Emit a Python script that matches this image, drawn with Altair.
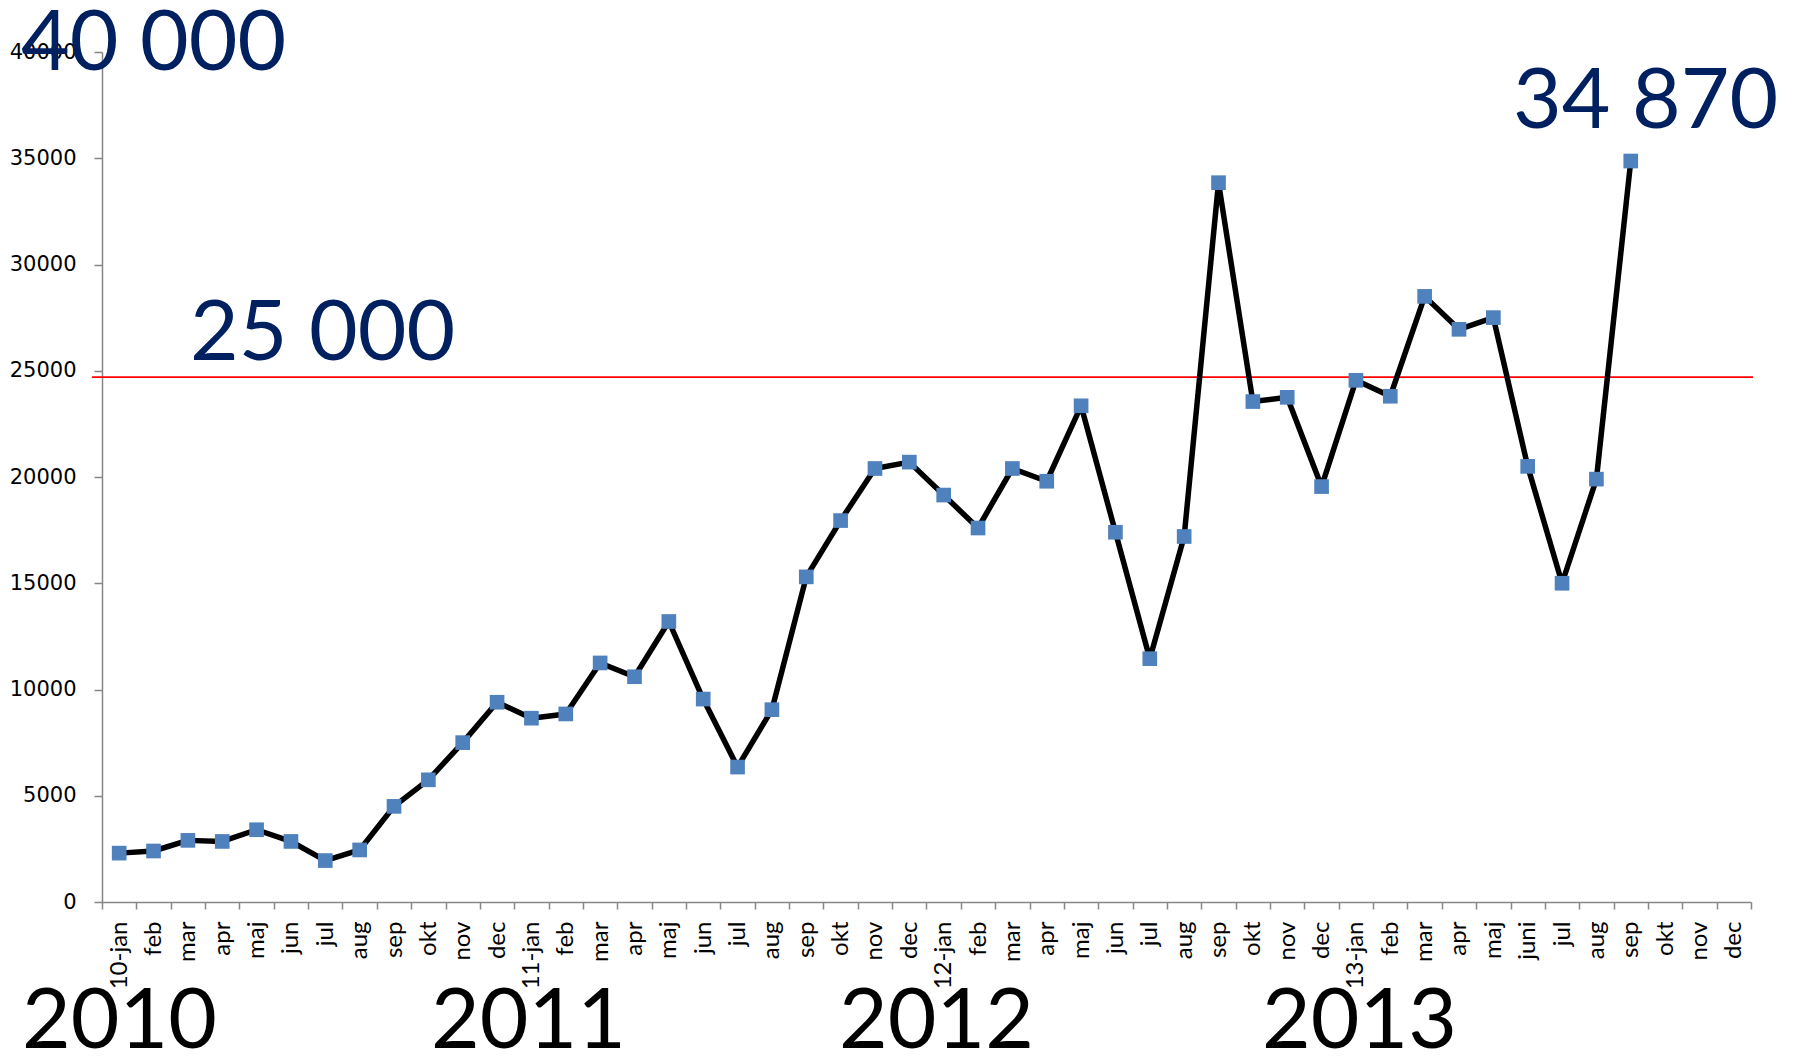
import json
import altair as alt
import pandas as pd

# ---- data ----
month_labels = (
    ["10-jan", "feb", "mar", "apr", "maj", "jun", "jul", "aug", "sep", "okt", "nov", "dec"]
    + ["11-jan", "feb", "mar", "apr", "maj", "jun", "jul", "aug", "sep", "okt", "nov", "dec"]
    + ["12-jan", "feb", "mar", "apr", "maj", "jun", "jul", "aug", "sep", "okt", "nov", "dec"]
    + ["13-jan", "feb", "mar", "apr", "maj", "juni", "jul", "aug", "sep", "okt", "nov", "dec"]
)
values_2010 = [2300, 2400, 2900, 2850, 3400, 2850, 1950, 2450, 4500, 5750, 7500, 9400]
values_2011 = [8650, 8850, 11250, 10600, 13200, 9550, 6350, 9050, 15300, 17950, 20400, 20700]
values_2012 = [19150, 17600, 20400, 19800, 23350, 17400, 11450, 17200, 33850, 23550, 23750, 19550]
values_2013 = [24550, 23800, 28500, 26950, 27500, 20500, 15000, 19900, 34870, None, None, None]
year_labels = ["2010", "2011", "2012", "2013"]
target_value = 24700
y_ticks = [0, 5000, 10000, 15000, 20000, 25000, 30000, 35000, 40000]

values = values_2010 + values_2011 + values_2012 + values_2013
df = pd.DataFrame({"idx": list(range(len(month_labels))), "value": values})
df_valid = df.dropna()

W, H = 1649, 850
NAVY = "#002060"
GREY = "#868686"
BIG = "Lato"

label_expr = json.dumps(month_labels) + "[datum.value]"

x_enc = alt.X(
    "idx:O",
    scale=alt.Scale(type="band", domain=list(range(len(month_labels))), paddingInner=0, paddingOuter=0),
    axis=alt.Axis(
        title=None,
        labelExpr=label_expr,
        labelAngle=-90,
        labelFont="Lato",
        labelFontSize=24,
        labelColor="black",
        labelPadding=12,
        tickSize=7,
        tickColor=GREY,
        tickWidth=1.5,
        tickBand="extent",
        domainColor=GREY,
        domainWidth=1.5,
        grid=False,
        labelOverlap=False,
    ),
)
y_enc = alt.Y(
    "value:Q",
    scale=alt.Scale(domain=[0, 40000], nice=False),
    axis=alt.Axis(
        title=None,
        values=y_ticks,
        format="d",
        labelFont="DejaVu Sans",
        labelFontSize=21,
        labelColor="black",
        labelPadding=18,
        tickSize=8,
        tickColor=GREY,
        tickWidth=1.5,
        domainColor=GREY,
        domainWidth=1.5,
        grid=False,
    ),
)

line = alt.Chart(df_valid).mark_line(
    color="black", strokeWidth=5.5, strokeJoin="round", strokeCap="round"
).encode(x=x_enc, y=y_enc)
pts = alt.Chart(df_valid).mark_point(
    shape="square", filled=True, size=215, color="#4F81BD", opacity=1
).encode(x=x_enc, y=y_enc)

rule = alt.Chart(pd.DataFrame({"v": [target_value]})).mark_rule(
    color="#FF0000", strokeWidth=1.8
).encode(y=alt.Y("v:Q"), x=alt.value(-10), x2=alt.value(W + 2))


def big_text(txt, x, y, color, size=84):
    return alt.Chart(pd.DataFrame({"t": [txt]})).mark_text(
        font=BIG, fontSize=size, color=color, align="left", baseline="alphabetic"
    ).encode(text="t:N", x=alt.value(x), y=alt.value(y))


texts = [
    big_text("40 000", -81, 18, NAVY),
    big_text("25 000", 88, 308, NAVY),
    big_text("34 870", 1411, 76, NAVY),
    big_text(year_labels[0], -80, 996, "black"),
    big_text(year_labels[1], 329, 996, "black"),
    big_text(year_labels[2], 737, 996, "black"),
    big_text(year_labels[3], 1160, 996, "black"),
]

chart = alt.layer(rule, line, pts, *texts).properties(
    width=W,
    height=H,
    autosize=alt.AutoSizeParams(type="none"),
    padding={"left": 94, "top": 44, "right": 36, "bottom": 147},
    background="white",
).configure_view(stroke=None)

chart.save("out.html", embed_options={"renderer": "svg", "actions": False})
